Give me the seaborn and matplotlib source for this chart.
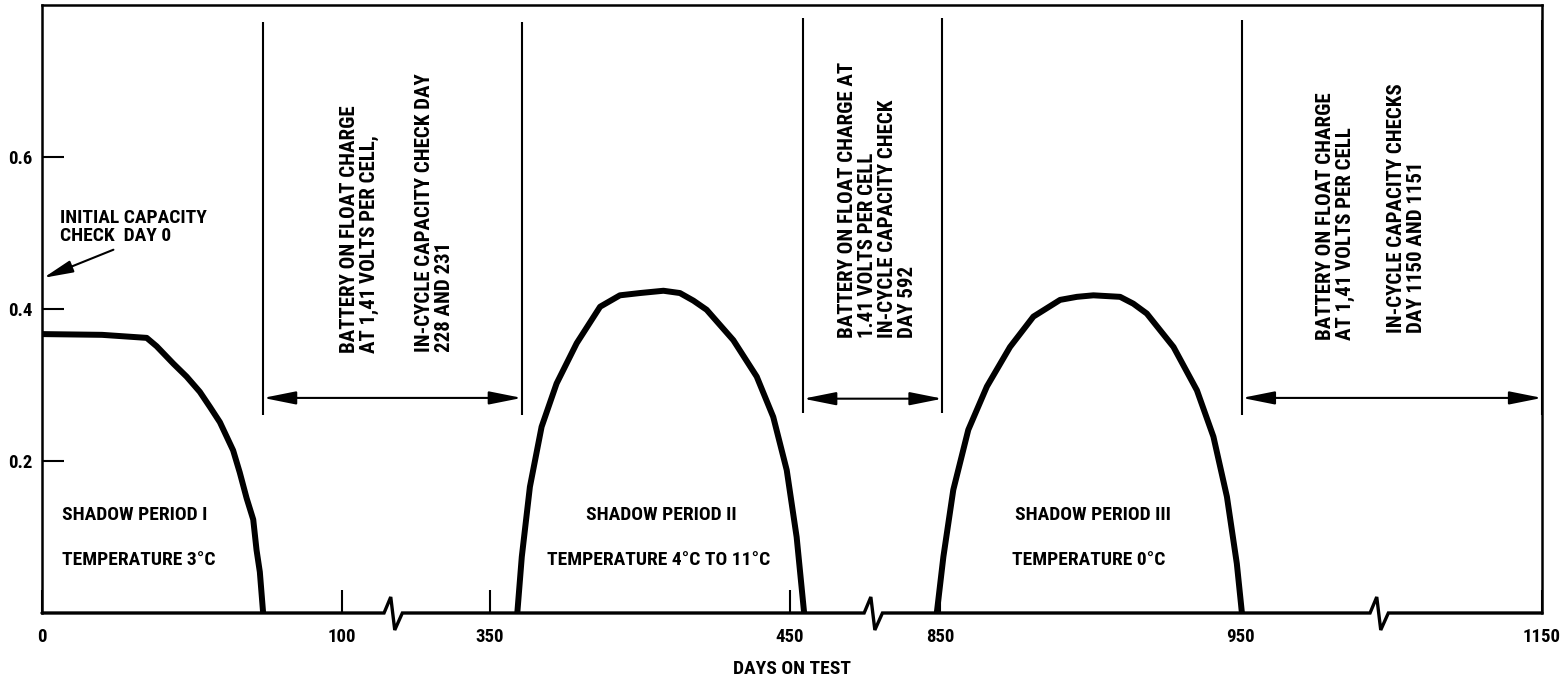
import numpy as np
import matplotlib
matplotlib.use("Agg")
import matplotlib.pyplot as plt
from matplotlib import font_manager
import seaborn as sns

# Capacity curves (days on test, capacity)
period1_days = [0, 20, 34.9, 38.2, 43.8, 48.2, 52.6, 56.0, 59.3, 63.7, 65.9, 68.2, 70.4, 71.5, 72.6, 73.7]
period1_cap = [0.367, 0.366, 0.362, 0.351, 0.328, 0.311, 0.291, 0.271, 0.251, 0.214, 0.185, 0.151, 0.123, 0.083, 0.054, 0.0]

period2_days = [359.1, 360.6, 363.3, 367.2, 372.2, 378.9, 386.7, 393.3, 400.0, 407.8, 413.3, 417.8, 422.2, 431.1, 438.9, 444.4, 448.9, 452.2, 454.7]
period2_cap = [0.0, 0.074, 0.166, 0.245, 0.302, 0.355, 0.403, 0.418, 0.421, 0.424, 0.421, 0.411, 0.399, 0.359, 0.311, 0.258, 0.188, 0.100, 0.0]

period3_days = [848.9, 851.1, 854.4, 859.4, 865.6, 873.3, 881.1, 890.0, 895.6, 901.1, 910.0, 914.4, 918.9, 927.8, 935.6, 941.1, 945.6, 948.9, 950.6]
period3_cap = [0.0, 0.074, 0.162, 0.241, 0.298, 0.350, 0.390, 0.412, 0.416, 0.418, 0.416, 0.407, 0.394, 0.350, 0.293, 0.232, 0.153, 0.065, 0.0]

# Float charge intervals (days) and their bracket heights
float_start = [73.7, 454.4, 950.6]
float_end = [360.6, 850.8, 1150]
float_top = [0.778, 0.783, 0.780]
float_bottom = [0.261, 0.263, 0.261]
float_arrow = [0.283, 0.282, 0.283]

# Broken x axis: visible day ranges
segments = [(0, 117), (317.7, 477.7), (827.7, 996.3), (1095.7, 1150)]
x_ticks = [0, 100, 350, 450, 850, 950, 1150]
y_ticks = [0.2, 0.4, 0.6]

# Piecewise linear scale for the broken axis
day_anchor = [-1000.0]
pos_anchor = [-1000.0]
pos = 0.0
for i, (d0, d1) in enumerate(segments):
    day_anchor += [d0, d1]
    pos_anchor += [pos + 0.01 * i, pos + 0.01 * i + (d1 - d0)]
    pos = pos + (d1 - d0)
day_anchor.append(3000.0)
pos_anchor.append(pos_anchor[-1] + 1850.0)
total_pos = pos_anchor[-2]
break_fracs = [pos_anchor[2 * i + 2] / total_pos for i in range(len(segments) - 1)]


def fwd(x):
    return np.interp(x, day_anchor, pos_anchor)


def inv(p):
    return np.interp(p, pos_anchor, day_anchor)


sns.set_theme(style="white")

# pick a narrow font if one is installed
installed = {(f.name, f.stretch) for f in font_manager.fontManager.ttflist}
names = {n for n, s in installed}
scale = 1.0
if "Roboto Condensed" in names:
    family = ["Roboto Condensed", "DejaVu Sans"]
elif "Liberation Sans Narrow" in names:
    family = ["Liberation Sans Narrow", "DejaVu Sans"]
elif ("DejaVu Sans", "condensed") in installed or ("DejaVu Sans", "semi-condensed") in installed:
    family = ["DejaVu Sans"]
    plt.rcParams["font.stretch"] = "condensed"
    scale = 0.92
else:
    family = ["Roboto", "DejaVu Sans"]
    scale = 0.85
plt.rcParams["font.family"] = family
plt.rcParams["font.weight"] = "bold"
plt.rcParams["text.color"] = "black"
plt.rcParams["axes.labelweight"] = "bold"

fig = plt.figure(figsize=(15.67, 6.79), dpi=100)
ax_w, ax_h = 1500, 608
ax = fig.add_axes([42 / 1567, 66 / 679, ax_w / 1567, ax_h / 679])
ax.set_facecolor("white")

for d, c in [(period1_days, period1_cap), (period2_days, period2_cap), (period3_days, period3_cap)]:
    sns.lineplot(x=d, y=c, ax=ax, color="black", linewidth=4.3, sort=False,
                 estimator=None, legend=False)

# float charge brackets
ax.vlines(float_start, float_bottom, float_top, color="black", lw=1.5)
ax.vlines(float_end, float_bottom, float_top, color="black", lw=1.5)
for s, e, y in zip(float_start, float_end, float_arrow):
    ax.annotate("", xy=(e, y), xytext=(s, y),
                arrowprops=dict(arrowstyle="<|-|>,head_length=1.0,head_width=0.2",
                                mutation_scale=20, lw=1.5, color="black",
                                shrinkA=0, shrinkB=0))

# initial capacity check
ax.annotate("", xy=(0.5, 0.441), xytext=(23.8, 0.478),
            arrowprops=dict(arrowstyle="-|>,head_length=1.2,head_width=0.25",
                            mutation_scale=15, lw=1.5, color="black",
                            shrinkA=0, shrinkB=0))
fs = 14 * scale
ax.text(0.012, 0.635, "INITIAL CAPACITY\nCHECK  DAY 0", transform=ax.transAxes,
        ha="left", va="center", fontsize=fs, linespacing=1.0)

# shadow period labels
ax.text(0.0131, 0.162, "SHADOW PERIOD I", transform=ax.transAxes, ha="left", va="center", fontsize=fs)
ax.text(0.0131, 0.087, "TEMPERATURE 3°C", transform=ax.transAxes, ha="left", va="center", fontsize=fs)
ax.text(0.4131, 0.161, "SHADOW PERIOD II", transform=ax.transAxes, ha="center", va="center", fontsize=fs)
ax.text(0.4111, 0.087, "TEMPERATURE 4°C TO 11°C", transform=ax.transAxes, ha="center", va="center", fontsize=fs)
ax.text(0.7007, 0.161, "SHADOW PERIOD III", transform=ax.transAxes, ha="center", va="center", fontsize=fs)
ax.text(0.698, 0.087, "TEMPERATURE 0°C", transform=ax.transAxes, ha="center", va="center", fontsize=fs)

# rotated notes inside the float charge brackets
notes = [
    (0.2117, 0.4276, "BATTERY ON FLOAT CHARGE\nAT 1,41 VOLTS PER CELL,"),
    (0.2617, 0.4298, "IN-CYCLE CAPACITY CHECK DAY\n228 AND 231"),
    (0.557, 0.4523, "BATTERY ON FLOAT CHARGE AT\n1.41 VOLTS PER CELL\nIN-CYCLE CAPACITY CHECK\nDAY 592"),
    (0.8625, 0.449, "BATTERY ON FLOAT CHARGE\nAT 1,41 VOLTS PER CELL"),
    (0.9097, 0.4605, "IN-CYCLE CAPACITY CHECKS\nDAY 1150 AND 1151"),
]
for x, y, t in notes:
    ax.text(x, y, t, transform=ax.transAxes, rotation=90, ha="center", va="bottom",
            multialignment="left", fontsize=15 * scale, linespacing=1.05)

# bottom axis line with break marks
zig = [(-9, 0), (-2.3, 16), (1.7, -17), (9.3, 0)]
bx, by = [0.0], [0.0]
for b in break_fracs:
    for dx, dy in zig:
        bx.append(b + dx / ax_w)
        by.append(dy / ax_h)
bx.append(1.0)
by.append(0.0)
ax.plot(bx, by, transform=ax.transAxes, color="black", lw=2.4, clip_on=False,
        solid_joinstyle="miter")

ax.set_xscale("function", functions=(fwd, inv))
ax.set_xlim(0, 1150)
ax.set_ylim(0, 0.8)
ax.set_xticks(x_ticks)
ax.set_xticklabels([str(t) for t in x_ticks])
ax.set_yticks(y_ticks)
ax.set_yticklabels([f"{t:.1f}" for t in y_ticks])
ax.tick_params(axis="x", direction="in", length=16.5, width=1.5, pad=11,
               labelsize=13.5 * scale, colors="black", bottom=True, top=False)
ax.tick_params(axis="y", direction="in", length=16, width=1.5, pad=7,
               labelsize=13.5 * scale, colors="black", left=True, right=False)
ax.set_xlabel("DAYS ON TEST", fontsize=fs, labelpad=10, color="black")
ax.set_ylabel("")

for side in ["left", "top", "right"]:
    ax.spines[side].set_visible(True)
    ax.spines[side].set_color("black")
    ax.spines[side].set_linewidth(1.8)
ax.spines["bottom"].set_visible(False)

fig.savefig("out.png", dpi=100, facecolor="white")
